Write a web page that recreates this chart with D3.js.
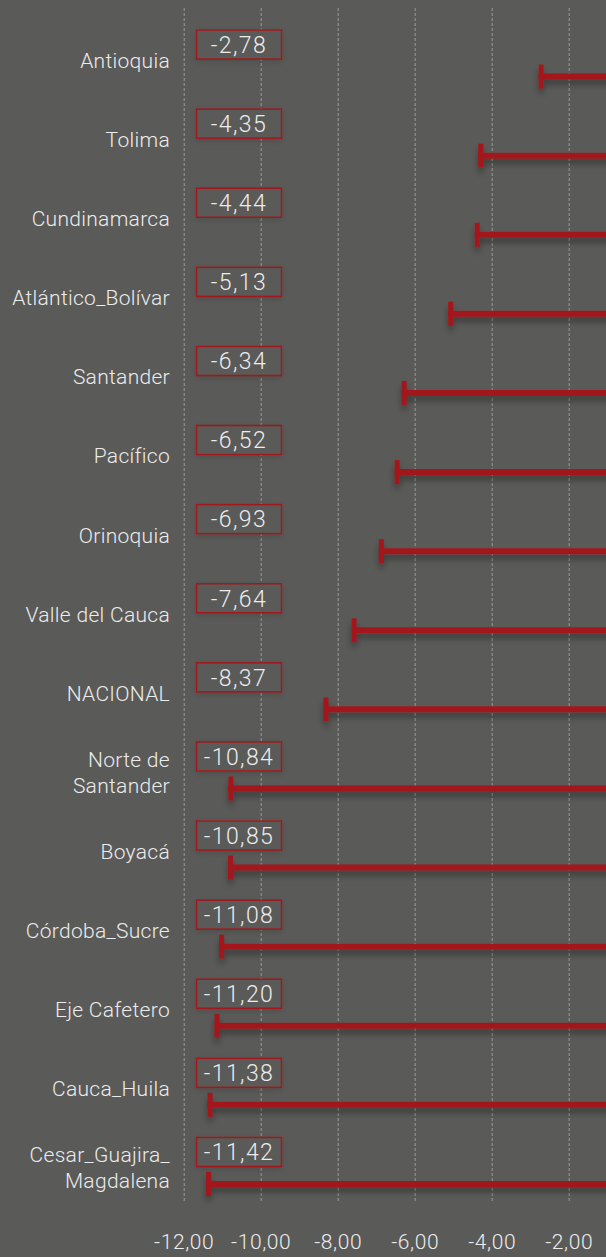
<!DOCTYPE html>
<html>
<head>
<meta charset="utf-8">
<script src="https://cdn.jsdelivr.net/npm/d3@7"></script>
<style>
  html, body { margin: 0; padding: 0; background: #5a5a58; }
  svg { display: block; }
</style>
</head>
<body>
<script>
// Categories, top to bottom ("\n" marks a line break in the label)
const regions = [
    "Antioquia", "Tolima", "Cundinamarca", "Atlántico_Bolívar", "Santander",
    "Pacífico", "Orinoquia", "Valle del Cauca", "NACIONAL", "Norte de\nSantander",
    "Boyacá", "Córdoba_Sucre", "Eje Cafetero", "Cauca_Huila", "Cesar_Guajira_\nMagdalena"
];
// Values per category
const values = [
    -2.78, -4.35, -4.44, -5.13, -6.34,
    -6.52, -6.93, -7.64, -8.37, -10.84,
    -10.85, -11.08, -11.20, -11.38, -11.42
];
// Axis ticks
const tickValues = [-12, -10, -8, -6, -4, -2];

const width = 606;
const height = 1257;

const red = "#a3191b";
const textColor = "#ececec";

const data = regions.map((name, i) => ({name, value: values[i]}));

// x scale: 0 falls past the right edge of the picture
const x = d3.scaleLinear([-12, 0], [183.7, 645.7]);

// y scale: one band per region
const y = d3.scaleBand()
    .domain(regions)
    .range([21, 21 + 79.1 * regions.length])
    .padding(0);

const fmt = d3.formatLocale({decimal: ",", thousands: ".", grouping: [3], currency: ["", ""], minus: "-"}).format(".2f");

const svg = d3.select("body").append("svg")
    .attr("width", width)
    .attr("height", height)
    .attr("viewBox", [0, 0, width, height]);

const defs = svg.append("defs");
defs.append("filter")
    .attr("id", "shadow")
    .attr("x", "-10%").attr("y", "-100%")
    .attr("width", "120%").attr("height", "400%")
    .append("feDropShadow")
    .attr("dx", 0).attr("dy", 5)
    .attr("stdDeviation", 3)
    .attr("flood-color", "#000")
    .attr("flood-opacity", 0.35);
defs.append("filter")
    .attr("id", "softshadow")
    .attr("x", "-20%").attr("y", "-50%")
    .attr("width", "140%").attr("height", "200%")
    .append("feDropShadow")
    .attr("dx", 0).attr("dy", 2)
    .attr("stdDeviation", 3)
    .attr("flood-color", "#000")
    .attr("flood-opacity", 0.15);

svg.append("rect")
    .attr("width", width)
    .attr("height", height)
    .attr("fill", "#5a5a58");

// Grid lines + tick labels
const gridTop = 8;
const gridBottom = 1203;
const axis = svg.append("g")
    .attr("transform", `translate(0,${gridTop})`)
    .call(d3.axisBottom(x)
        .tickValues(tickValues)
        .tickFormat(fmt)
        .tickSizeInner(gridBottom - gridTop)
        .tickSizeOuter(0)
        .tickPadding(31));
axis.select(".domain").remove();
axis.selectAll(".tick line")
    .attr("stroke", "#9a9a98")
    .attr("stroke-width", 1)
    .attr("stroke-dasharray", "3,2");
axis.selectAll(".tick text")
    .attr("fill", textColor)
    .style("font-family", "Roboto, sans-serif")
    .style("font-weight", 300)
    .style("font-size", "21px")
    .style("letter-spacing", "0.6px");

const cy = d => y(d.name) + y.bandwidth() / 2;

// Category labels
const labels = svg.append("g")
    .attr("text-anchor", "end")
    .attr("fill", textColor)
    .style("font-family", "Roboto, sans-serif")
    .style("font-weight", 300)
    .style("font-size", "21px")
    .style("letter-spacing", "0.3px");

labels.selectAll("text")
    .data(data)
    .join("text")
    .attr("x", 170)
    .attr("y", cy)
    .each(function (d) {
        const lines = d.name.split("\n");
        const t = d3.select(this);
        lines.forEach((line, i) => {
            t.append("tspan")
                .attr("x", 170)
                .attr("dy", i === 0 ? `${0.35 - (lines.length - 1) * 0.62}em` : "1.24em")
                .text(line);
        });
    });

// Bars
const bars = svg.append("g").attr("filter", "url(#shadow)");
const barOffset = 16;

bars.selectAll("line")
    .data(data)
    .join("line")
    .attr("x1", d => x(d.value))
    .attr("x2", x(0))
    .attr("y1", d => cy(d) + barOffset)
    .attr("y2", d => cy(d) + barOffset)
    .attr("stroke", red)
    .attr("stroke-width", 6);

bars.selectAll("rect")
    .data(data)
    .join("rect")
    .attr("x", d => x(d.value))
    .attr("y", d => cy(d) + barOffset - 12)
    .attr("width", 5)
    .attr("height", 24)
    .attr("fill", red);

// Value boxes
const boxW = 85;
const boxH = 29;
const boxX = 196.5;
const boxes = svg.append("g");

boxes.selectAll("rect")
    .data(data)
    .join("rect")
    .attr("x", boxX)
    .attr("y", d => cy(d) - barOffset - boxH / 2)
    .attr("width", boxW)
    .attr("height", boxH)
    .attr("fill", "#5a5a58")
    .attr("stroke", red)
    .attr("stroke-width", 1.5)
    .attr("filter", "url(#softshadow)");

boxes.selectAll("text")
    .data(data)
    .join("text")
    .attr("x", boxX + boxW / 2)
    .attr("y", d => cy(d) - barOffset)
    .attr("dy", "0.36em")
    .attr("text-anchor", "middle")
    .attr("fill", textColor)
    .style("font-family", "Roboto, sans-serif")
    .style("font-weight", 300)
    .style("font-size", "23px")
    .style("letter-spacing", "1.4px")
    .text(d => fmt(d.value));
</script>
</body>
</html>
